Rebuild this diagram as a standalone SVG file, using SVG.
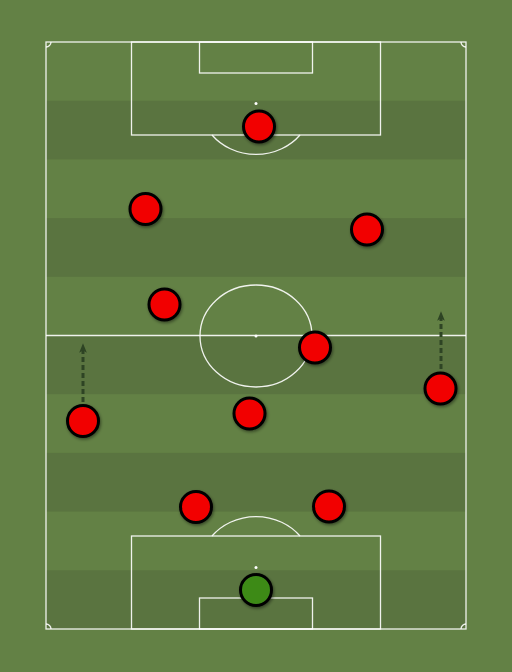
<svg xmlns="http://www.w3.org/2000/svg" width="512" height="672" viewBox="0 0 512 672">
  <defs>
    <style>
      .line { fill: none; stroke: #ffffff; stroke-width: 1.3; stroke-opacity: 0.9; }
      .stripe { fill: #5a7440; }
      .player circle { stroke: #000; stroke-width: 3; }
      .red { fill: #f20000; }
      .gk { fill: #3d8a18; }
      .arrow { fill: none; stroke: #2e4424; stroke-width: 3; stroke-dasharray: 5 3; }
    </style>
    <filter id="sh" x="-50%" y="-50%" width="200%" height="200%">
      <feDropShadow dx="1" dy="1.5" stdDeviation="1.5" flood-color="#000" flood-opacity="0.45"/>
    </filter>
    <marker id="ah" viewBox="0 0 10 10" refX="5" refY="5" markerWidth="3.2" markerHeight="3.2" orient="auto">
      <path d="M0,1 L10,5 L0,9 L2.5,5 Z" fill="#2e4424"/>
    </marker>
  </defs>

  <rect width="512" height="672" fill="#638145"/>
  <g id="stripes">
    <rect class="stripe" x="46" y="100.7" width="420" height="58.7"/>
    <rect class="stripe" x="46" y="218.1" width="420" height="58.7"/>
    <rect class="stripe" x="46" y="335.5" width="420" height="58.7"/>
    <rect class="stripe" x="46" y="452.9" width="420" height="58.7"/>
    <rect class="stripe" x="46" y="570.3" width="420" height="58.7"/>
  </g>

  <g id="pitch">
    <rect class="line" x="46" y="42" width="420" height="587"/>
    <line class="line" x1="46" y1="335.5" x2="466" y2="335.5"/>
    <ellipse class="line" cx="256" cy="336" rx="56" ry="51"/>
    <circle cx="256" cy="336" r="1.5" fill="#fff"/>
    <rect class="line" x="131.5" y="42" width="249" height="93"/>
    <rect class="line" x="199.5" y="42" width="113" height="31"/>
    <circle cx="256" cy="103.5" r="1.5" fill="#fff"/>
    <path class="line" d="M212,135 A56,51 0 0 0 300,135"/>
    <rect class="line" x="131.5" y="536" width="249" height="93"/>
    <rect class="line" x="199.5" y="598" width="113" height="31"/>
    <circle cx="256" cy="567.5" r="1.5" fill="#fff"/>
    <path class="line" d="M212,536 A56,51 0 0 1 300,536"/>
    <path class="line" d="M46,47 A5,5 0 0 0 51,42"/>
    <path class="line" d="M461,42 A5,5 0 0 0 466,47"/>
    <path class="line" d="M46,624 A5,5 0 0 1 51,629"/>
    <path class="line" d="M461,629 A5,5 0 0 1 466,624"/>
  </g>

  <g id="connectors">
    <line class="arrow" x1="83" y1="402" x2="83" y2="348" marker-end="url(#ah)"/>
    <line class="arrow" x1="441" y1="369" x2="441" y2="316" marker-end="url(#ah)"/>
  </g>

  <g id="p1" class="player"><circle class="red" cx="259" cy="126.5" r="15.5" filter="url(#sh)"/></g>
  <g id="p2" class="player"><circle class="red" cx="145.5" cy="209" r="15.5" filter="url(#sh)"/></g>
  <g id="p3" class="player"><circle class="red" cx="367" cy="229.5" r="15.5" filter="url(#sh)"/></g>
  <g id="p4" class="player"><circle class="red" cx="164.5" cy="304.5" r="15.5" filter="url(#sh)"/></g>
  <g id="p5" class="player"><circle class="red" cx="315" cy="347.5" r="15.5" filter="url(#sh)"/></g>
  <g id="p6" class="player"><circle class="red" cx="440.5" cy="388.5" r="15.5" filter="url(#sh)"/></g>
  <g id="p7" class="player"><circle class="red" cx="83" cy="421" r="15.5" filter="url(#sh)"/></g>
  <g id="p8" class="player"><circle class="red" cx="249.5" cy="413.5" r="15.5" filter="url(#sh)"/></g>
  <g id="p9" class="player"><circle class="red" cx="196" cy="507" r="15.5" filter="url(#sh)"/></g>
  <g id="p10" class="player"><circle class="red" cx="329" cy="506.5" r="15.5" filter="url(#sh)"/></g>
  <g id="gk" class="player"><circle class="gk" cx="256" cy="590" r="15.5" filter="url(#sh)"/></g>
</svg>
